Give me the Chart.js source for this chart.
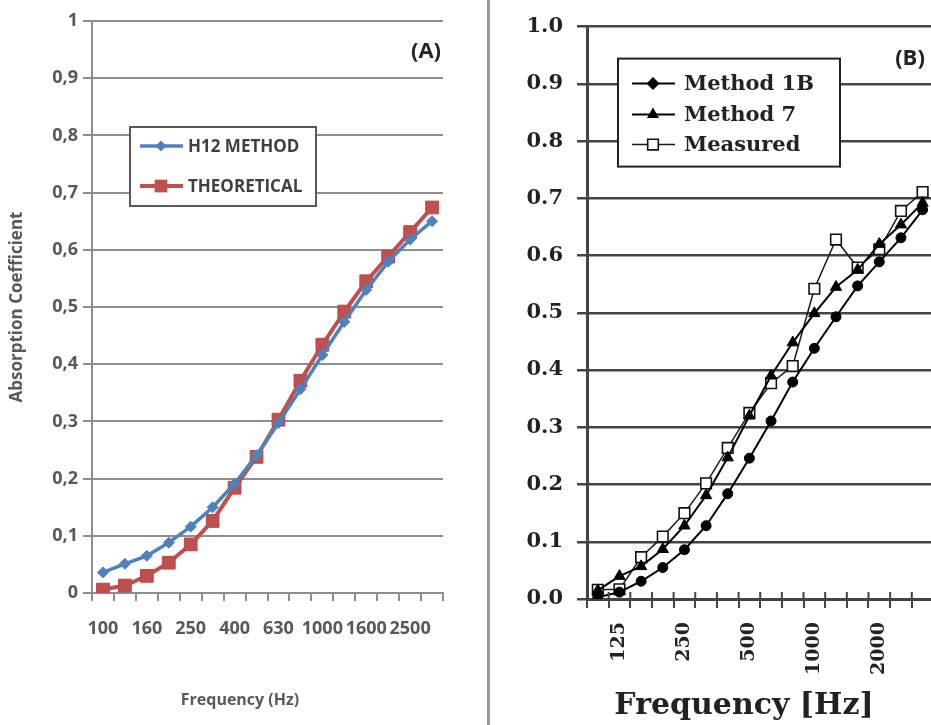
<!DOCTYPE html>
<html><head><meta charset="utf-8">
<script src="https://cdn.jsdelivr.net/npm/chart.js@4.4.1/dist/chart.umd.min.js"></script>
<style>
html,body{margin:0;padding:0;background:#fff;overflow:hidden;}
#wrap{position:relative;width:931px;height:725px;overflow:hidden;background:#fff;}
#cA{position:absolute;left:0;top:0;}
#cB{position:absolute;left:490px;top:0;}
#sep{position:absolute;left:487px;top:0;width:3px;height:725px;background:#9a9a9a;}
</style></head>
<body><div id="wrap"><canvas id="cA" width="480" height="725"></canvas><div id="sep"></div><canvas id="cB" width="470" height="725"></canvas></div>
<script>
// ---- Panel A data ----
const freqA = ['100','125','160','200','250','315','400','500','630','800','1000','1250','1600','2000','2500','3150'];
const h12Method = [0.036,0.051,0.065,0.088,0.116,0.150,0.191,0.241,0.297,0.356,0.416,0.474,0.530,0.579,0.618,0.650];
const theoretical = [0.006,0.013,0.030,0.053,0.085,0.126,0.184,0.238,0.303,0.371,0.434,0.492,0.545,0.588,0.631,0.674];
const yTicksA = ['0','0,1','0,2','0,3','0,4','0,5','0,6','0,7','0,8','0,9','1'];

// ---- Panel B data ----
const freqB = ['100','125','160','200','250','315','400','500','630','800','1000','1250','1600','2000','2500','3150'];
const method1B = [0.003,0.012,0.031,0.055,0.086,0.128,0.184,0.246,0.311,0.379,0.438,0.493,0.547,0.589,0.631,0.680];
const method7  = [0.015,0.040,0.057,0.087,0.128,0.181,0.247,0.320,0.390,0.448,0.499,0.545,0.575,0.620,0.654,0.692];
const measured = [0.016,0.017,0.073,0.109,0.150,0.202,0.264,0.325,0.377,0.407,0.542,0.628,0.579,0.611,0.678,0.711];
const yTicksB = ['0.0','0.1','0.2','0.3','0.4','0.5','0.6','0.7','0.8','0.9','1.0'];

function drawMarker(ctx, style, x, y, r, fill, stroke, bw) {
  ctx.beginPath();
  if (style === 'circle') ctx.arc(x, y, r, 0, Math.PI * 2);
  else if (style === 'rect') { const s = r * Math.SQRT1_2; ctx.rect(x - s, y - s, 2 * s, 2 * s); }
  else if (style === 'rectRot') { ctx.moveTo(x, y - r); ctx.lineTo(x + r, y); ctx.lineTo(x, y + r); ctx.lineTo(x - r, y); ctx.closePath(); }
  else if (style === 'triangle') { ctx.moveTo(x, y - r); ctx.lineTo(x + 0.866 * r, y + 0.5 * r); ctx.lineTo(x - 0.866 * r, y + 0.5 * r); ctx.closePath(); }
  ctx.fillStyle = fill; ctx.fill();
  if (bw > 0) { ctx.lineWidth = bw; ctx.strokeStyle = stroke; ctx.stroke(); }
}

const decor = {
  id: 'decor',
  afterDraw(chart, args, o) {
    const ctx = chart.ctx, ca = chart.chartArea;
    ctx.save();
    // inner tick marks on x axis
    if (o.innerTicks) {
      const xs = chart.scales.x, n = chart.data.labels.length;
      const step = (ca.right - ca.left) / n;
      ctx.strokeStyle = o.innerTicks.color; ctx.lineWidth = o.innerTicks.width;
      for (let k = 0; k <= n; k++) {
        const px = xs.getPixelForValue(0) - step / 2 + k * step;
        ctx.beginPath(); ctx.moveTo(px, ca.bottom - o.innerTicks.len); ctx.lineTo(px, ca.bottom); ctx.stroke();
      }
    }
    // legend box
    const L = o.legend;
    const bx = ca.left + L.x, by = ca.top + L.y;
    ctx.fillStyle = '#fff'; ctx.fillRect(bx, by, L.w, L.h);
    ctx.lineWidth = L.borderWidth; ctx.strokeStyle = L.borderColor; ctx.strokeRect(bx, by, L.w, L.h);
    chart.data.datasets.forEach((ds, i) => {
      const ry = by + L.rows[i];
      ctx.strokeStyle = ds.borderColor; ctx.lineWidth = ds.borderWidth;
      ctx.beginPath(); ctx.moveTo(bx + L.line[0], ry); ctx.lineTo(bx + L.line[1], ry); ctx.stroke();
      const m = L.markers[i];
      drawMarker(ctx, m.style, bx + L.markerX, ry, m.r, ds.pointBackgroundColor, ds.pointBorderColor, m.bw);
      ctx.font = L.font; ctx.fillStyle = L.color; ctx.textAlign = 'left'; ctx.textBaseline = 'middle';
      ctx.fillText(ds.label, bx + L.textX, ry + 1);
    });
    // free texts
    (o.texts || []).forEach(t => {
      ctx.font = t.font; ctx.fillStyle = t.color; ctx.textAlign = 'center'; ctx.textBaseline = 'middle';
      ctx.fillText(t.text, t.rel === 'area' ? ca.left + t.x : t.x, t.rel === 'area' ? ca.top + t.y : t.y);
    });
    ctx.restore();
  }
};

const sansA = '"Open Sans", "Noto Sans", sans-serif';
const gridA = '#8e8e8e';

new Chart(document.getElementById('cA'), {
  type: 'line',
  data: {
    labels: freqA,
    datasets: [
      { label: 'H12 METHOD', data: h12Method, borderColor: '#4f81bd', backgroundColor: '#4f81bd',
        pointBackgroundColor: '#4f81bd', pointBorderColor: '#4f81bd', borderWidth: 3.5,
        pointStyle: 'rectRot', pointRadius: 5.5, pointBorderWidth: 1, tension: 0 },
      { label: 'THEORETICAL', data: theoretical, borderColor: '#c0504d', backgroundColor: '#c0504d',
        pointBackgroundColor: '#c0504d', pointBorderColor: '#b8494a', borderWidth: 4,
        pointStyle: 'rect', pointRadius: 9, pointBorderWidth: 1, tension: 0 }
    ]
  },
  options: {
    responsive: false, animation: false, devicePixelRatio: 1,
    layout: { padding: { left: 0, right: 37, top: 21, bottom: 0 } },
    plugins: {
      legend: { display: false }, tooltip: { enabled: false },
      decor: {
        legend: { x: 38, y: 106, w: 186, h: 79, borderWidth: 2, borderColor: '#5a5a5a',
          rows: [19, 59], line: [10, 53], markerX: 31, textX: 58,
          font: 'bold 17px ' + sansA, color: '#404040',
          markers: [{ style: 'rectRot', r: 5.5, bw: 0 }, { style: 'rect', r: 9, bw: 0 }] },
        texts: [
          { text: '(A)', x: 334, y: 31, rel: 'area', font: 'bold 22px ' + sansA, color: '#262626' },
          { text: 'Frequency (Hz)', x: 240, y: 700, font: 'bold 16px ' + sansA, color: '#595959' }
        ]
      }
    },
    scales: {
      x: {
        type: 'category', offset: true,
        grid: { offset: true, drawOnChartArea: false, drawTicks: true, tickLength: 8, color: gridA, lineWidth: 2 },
        border: { color: gridA, width: 2 },
        ticks: { autoSkip: false, maxRotation: 0, minRotation: 0, padding: 17, color: '#595959',
          font: { family: sansA, size: 18, weight: 'bold' },
          callback: (v, i) => (i % 2 === 0 ? freqA[i] : '') },
        afterFit: s => { s.height = 132; }
      },
      y: {
        min: 0, max: 1,
        grid: { color: gridA, lineWidth: 2, tickLength: 9 },
        border: { color: gridA, width: 2 },
        ticks: { stepSize: 0.1, padding: 5, color: '#595959', font: { family: sansA, size: 18, weight: 'bold' },
          callback: (v, i) => yTicksA[i] },
        title: { display: true, text: 'Absorption Coefficient', color: '#595959',
          font: { family: sansA, size: 17, weight: 'bold' }, padding: { top: 7, bottom: 4 } },
        afterFit: s => { s.width = 92; }
      }
    }
  },
  plugins: [decor]
});

const serifB = '"DejaVu Serif", serif';
const gridB = '#444444';

new Chart(document.getElementById('cB'), {
  type: 'line',
  data: {
    labels: freqB,
    datasets: [
      { label: 'Method 1B', data: method1B, borderColor: '#000', backgroundColor: '#000',
        pointBackgroundColor: '#000', pointBorderColor: '#000', borderWidth: 2,
        pointStyle: 'circle', pointRadius: 5, pointBorderWidth: 1, tension: 0 },
      { label: 'Method 7', data: method7, borderColor: '#000', backgroundColor: '#000',
        pointBackgroundColor: '#000', pointBorderColor: '#000', borderWidth: 2,
        pointStyle: 'triangle', pointRadius: 6.5, pointBorderWidth: 1, tension: 0 },
      { label: 'Measured', data: measured, borderColor: '#1a1a1a', backgroundColor: '#fff',
        pointBackgroundColor: '#fff', pointBorderColor: '#111', borderWidth: 1.5,
        pointStyle: 'rect', pointRadius: 7.5, pointBorderWidth: 1.6, tension: 0 }
    ]
  },
  options: {
    responsive: false, animation: false, devicePixelRatio: 1,
    layout: { padding: { left: 0, right: 19, top: 19, bottom: 0 } },
    plugins: {
      legend: { display: false }, tooltip: { enabled: false },
      decor: {
        innerTicks: { color: gridB, width: 2, len: 7 },
        legend: { x: 31, y: 32, w: 222, h: 108, borderWidth: 2, borderColor: '#222',
          rows: [25, 56, 86], line: [14, 57], markerX: 35, textX: 66,
          font: 'bold 21px ' + serifB, color: '#222',
          markers: [{ style: 'rectRot', r: 6.5, bw: 0 }, { style: 'triangle', r: 7, bw: 0 }, { style: 'rect', r: 7.5, bw: 1.6 }] },
        texts: [
          { text: '(B)', x: 323, y: 32, rel: 'area', font: 'bold 22px ' + sansA, color: '#222' },
          { text: 'Frequency [Hz]', x: 254, y: 706, font: 'bold 30px ' + serifB, color: '#222' }
        ]
      }
    },
    scales: {
      x: {
        type: 'category', offset: true,
        grid: { offset: true, drawOnChartArea: false, drawTicks: true, tickLength: 9, color: gridB, lineWidth: 2 },
        border: { color: gridB, width: 3 },
        ticks: { autoSkip: false, maxRotation: 90, minRotation: 90, padding: 14, color: '#222',
          font: { family: serifB, size: 19, weight: 'bold' },
          callback: (v, i) => (i % 3 === 1 ? freqB[i] : '') },
        afterFit: s => { s.height = 126; }
      },
      y: {
        min: 0, max: 1,
        grid: { color: gridB, lineWidth: 2.5, tickLength: 10 },
        border: { color: gridB, width: 3 },
        ticks: { stepSize: 0.1, padding: 14, color: '#222', font: { family: serifB, size: 21, weight: 'bold' },
          callback: (v, i) => yTicksB[i] },
        afterFit: s => { s.width = 97; }
      }
    }
  },
  plugins: [decor]
});
</script>
</body></html>
